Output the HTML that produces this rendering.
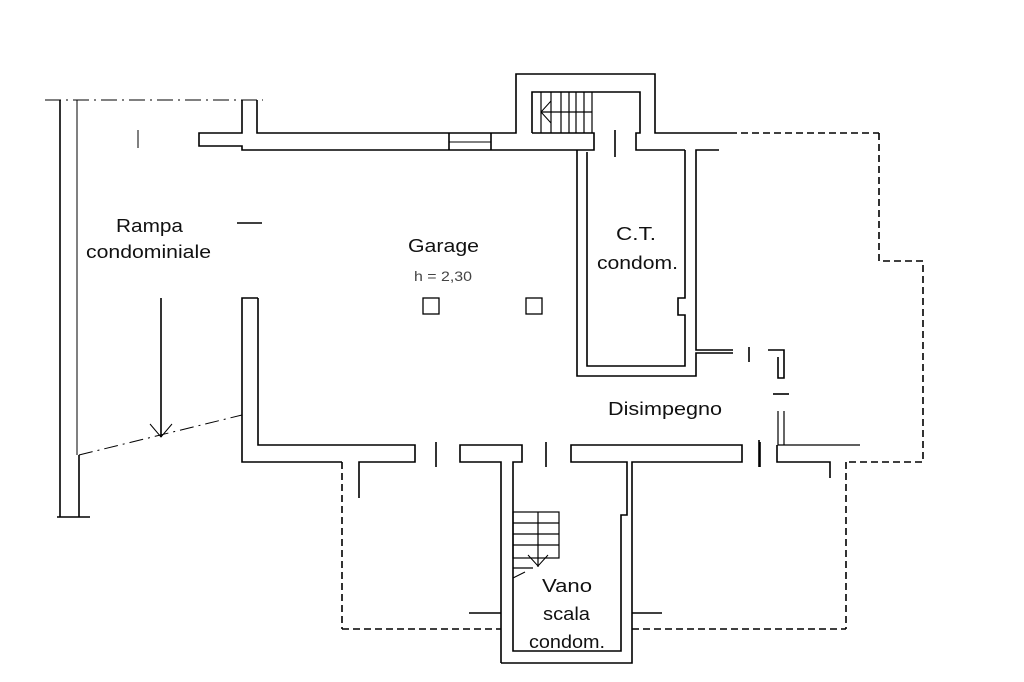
<!DOCTYPE html>
<html><head><meta charset="utf-8"><style>
html,body{margin:0;padding:0;background:#fff;}
svg{display:block;}
text{font-family:"Liberation Sans",sans-serif;fill:#111;}
</style></head><body>
<svg width="1024" height="682" viewBox="0 0 1024 682" xmlns="http://www.w3.org/2000/svg">
<g fill="none" stroke="#000" stroke-width="1.6">
<line x1="45" y1="100" x2="263" y2="100" stroke-dasharray="16,5,2,5" stroke-width="1"/>
<line x1="60" y1="100" x2="60" y2="517"/>
<line x1="77" y1="100" x2="77" y2="455" stroke-width="1"/>
<line x1="79" y1="455" x2="79" y2="517"/>
<line x1="57" y1="517" x2="90" y2="517"/>
<line x1="138" y1="130" x2="138" y2="148" stroke-width="1"/>
<line x1="237" y1="223" x2="262" y2="223"/>
<line x1="161" y1="298" x2="161" y2="437"/>
<polyline points="150,424 161,437 172,424" stroke-width="1"/>
<line x1="79" y1="455" x2="242" y2="415" stroke-dasharray="14,5,2,5" stroke-width="1"/>
<polyline points="242,100 242,133 199,133 199,146 242,146 242,150 594,150 594,133 532,133"/>
<polyline points="257,100 257,133 516,133 516,74 655,74 655,133 730,133"/>
<line x1="730" y1="133" x2="879" y2="133" stroke-dasharray="7,4"/>
<line x1="449" y1="133" x2="449" y2="150"/>
<line x1="491" y1="133" x2="491" y2="150"/>
<line x1="449" y1="142" x2="491" y2="142" stroke-width="1"/>
<polyline points="532,133 532,92 640,92 640,133 636,133 636,150 685,150"/>
<g stroke-width="1.2">
<line x1="541" y1="92" x2="541" y2="133"/><line x1="551" y1="92" x2="551" y2="133"/>
<line x1="561" y1="92" x2="561" y2="133"/><line x1="569" y1="92" x2="569" y2="133"/>
<line x1="576" y1="92" x2="576" y2="133"/><line x1="584" y1="92" x2="584" y2="133"/>
<line x1="592" y1="92" x2="592" y2="133"/>
<line x1="541" y1="112" x2="592" y2="112"/>
<polyline points="551,101 541,112 551,123" stroke-width="1"/>
</g>
<line x1="615" y1="130" x2="615" y2="157"/>
<polyline points="577,150 577,376 696,376 696,353 733,353"/>
<polyline points="587,152 587,366 685,366 685,315 678,315 678,298 685,298 685,150"/>
<polyline points="719,150 696,150 696,350 733,350"/>
<polyline points="879,133 879,261 923,261 923,462 846,462" stroke-dasharray="7,4"/>
<line x1="749" y1="347" x2="749" y2="362"/>
<polyline points="768,350 784,350 784,378 778,378 778,357"/>
<line x1="773" y1="394" x2="789" y2="394"/>
<polyline points="778,411 778,445 860,445" stroke-width="1.2"/>
<line x1="784" y1="411" x2="784" y2="445" stroke-width="1.2"/>
<polyline points="777,445 777,462 830,462 830,478"/>
<polyline points="846,462 846,629" stroke-dasharray="7,4"/>
<line x1="759" y1="440" x2="759" y2="467"/>
<polyline points="258,298 242,298 242,462 342,462"/>
<polyline points="258,298 258,445 415,445 415,462 359,462 359,498"/>
<line x1="342" y1="462" x2="342" y2="629" stroke-dasharray="7,4"/>
<line x1="436" y1="442" x2="436" y2="467"/>
<polyline points="501,663 501,462 460,462 460,445 522,445 522,462 513,462 513,651 621,651 621,515 627,515 627,462 571,462 571,445 742,445 742,462 632,462 632,663 501,663"/>
<line x1="546" y1="442" x2="546" y2="467"/>
<line x1="760" y1="442" x2="760" y2="467"/>
<line x1="469" y1="613" x2="501" y2="613"/>
<line x1="632" y1="613" x2="662" y2="613"/>
<line x1="342" y1="629" x2="501" y2="629" stroke-dasharray="7,4"/>
<line x1="632" y1="629" x2="846" y2="629" stroke-dasharray="7,4"/>
<g stroke-width="1.2">
<rect x="513" y="512" width="46" height="46"/>
<line x1="513" y1="523" x2="559" y2="523"/><line x1="513" y1="534" x2="559" y2="534"/>
<line x1="513" y1="545" x2="559" y2="545"/>
<line x1="538" y1="512" x2="538" y2="567"/>
<line x1="513" y1="568" x2="533" y2="568"/>
<polyline points="528,555 538,566 548,555" stroke-width="1"/>
<line x1="513" y1="578" x2="525" y2="572" stroke-width="1"/>
</g>
<rect x="423" y="298" width="16" height="16" stroke-width="1.3"/>
<rect x="526" y="298" width="16" height="16" stroke-width="1.3"/>
</g>
<g font-size="18">
<text x="116" y="232" textLength="67" lengthAdjust="spacingAndGlyphs">Rampa</text>
<text x="86" y="258" textLength="125" lengthAdjust="spacingAndGlyphs">condominiale</text>
<text x="408" y="252" textLength="71" lengthAdjust="spacingAndGlyphs">Garage</text>
<text x="414" y="281" font-size="14" style="fill:#444" textLength="58" lengthAdjust="spacingAndGlyphs">h = 2,30</text>
<text x="616" y="240" textLength="40" lengthAdjust="spacingAndGlyphs">C.T.</text>
<text x="597" y="269" textLength="81" lengthAdjust="spacingAndGlyphs">condom.</text>
<text x="608" y="415" textLength="114" lengthAdjust="spacingAndGlyphs">Disimpegno</text>
<text x="542" y="592" textLength="50" lengthAdjust="spacingAndGlyphs">Vano</text>
<text x="543" y="620" textLength="47" lengthAdjust="spacingAndGlyphs">scala</text>
<text x="529" y="648" textLength="76" lengthAdjust="spacingAndGlyphs">condom.</text>
</g>
</svg>
</body></html>
